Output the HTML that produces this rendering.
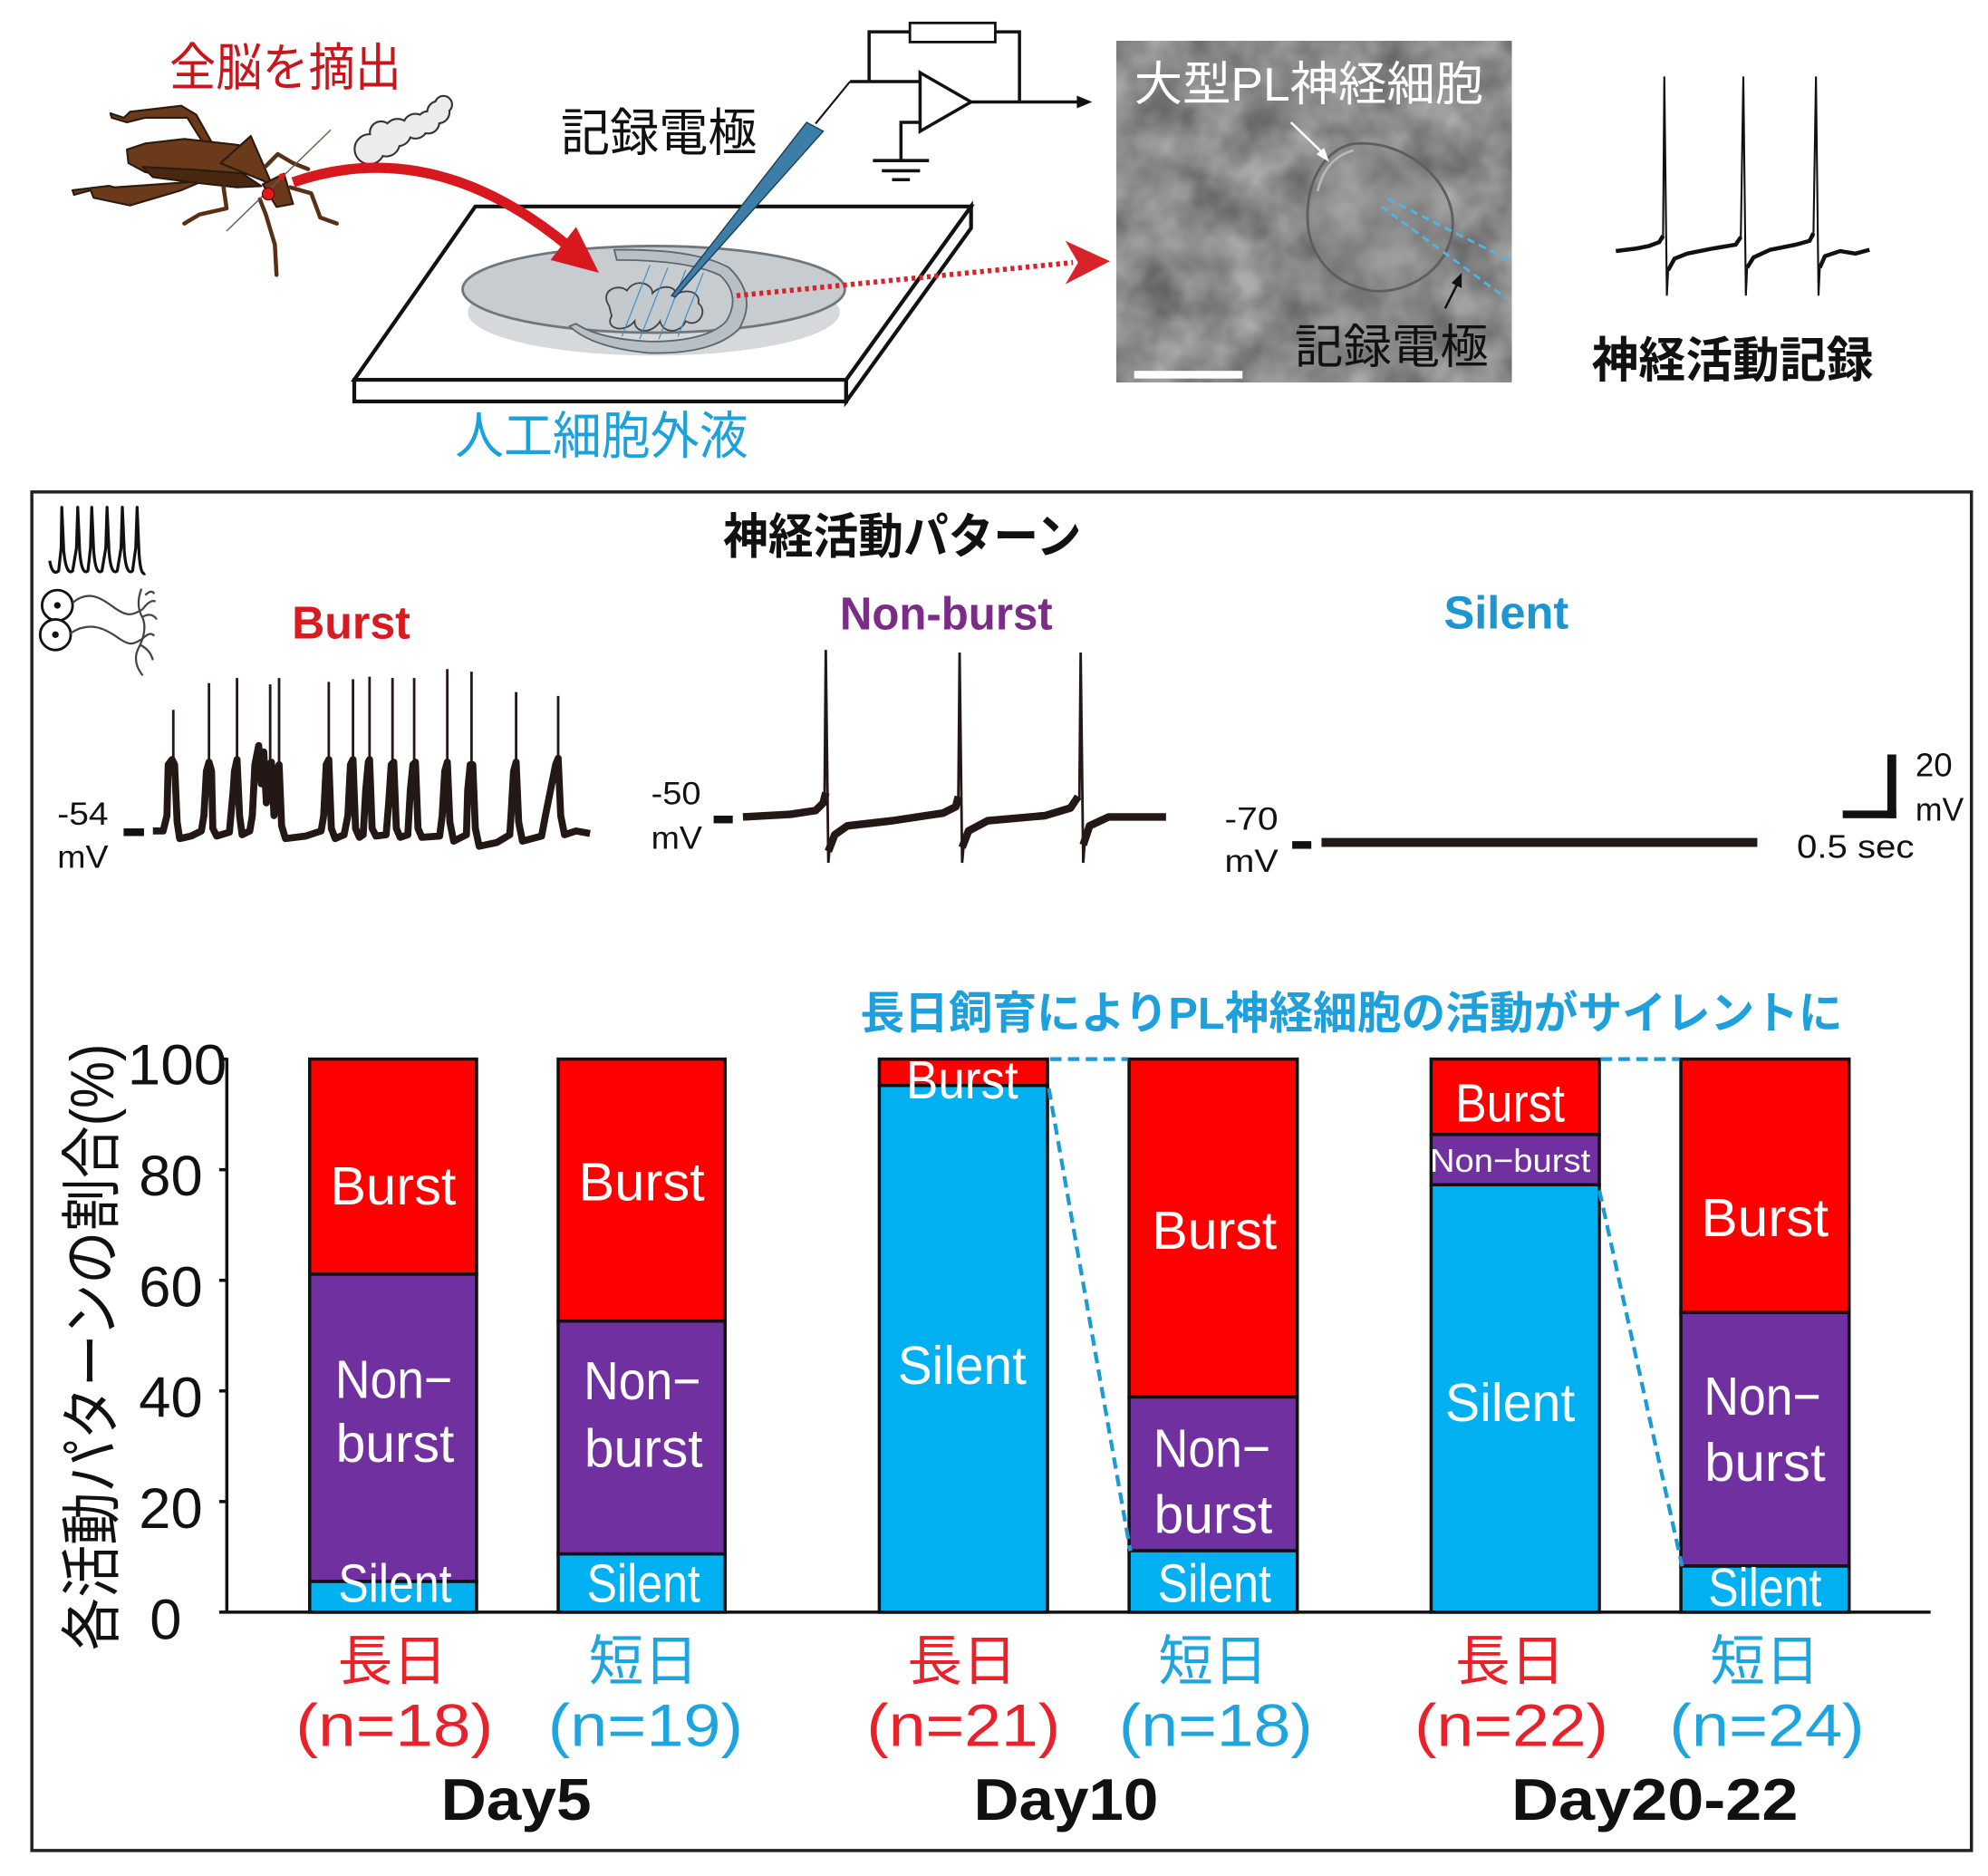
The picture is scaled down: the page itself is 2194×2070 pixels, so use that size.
<!DOCTYPE html>
<html><head><meta charset="utf-8">
<style>
html,body{margin:0;padding:0;background:#fff}
svg{display:block}
.j{font-family:"Liberation Sans","Noto Sans CJK JP",sans-serif}
.l{font-family:"Liberation Sans",sans-serif}
</style></head>
<body>
<svg width="2194" height="2070" viewBox="0 0 1560 1472" preserveAspectRatio="none" xmlns="http://www.w3.org/2000/svg">
<defs>
<filter id="tex" x="876" y="32" width="310" height="268" filterUnits="userSpaceOnUse" color-interpolation-filters="sRGB">
<feTurbulence type="fractalNoise" baseFrequency="0.028" numOctaves="3" seed="7"/>
<feColorMatrix type="matrix" values="0.42 0 0 0 0.33  0.42 0 0 0 0.33  0.42 0 0 0 0.33  0 0 0 0 1"/>
</filter>
</defs>
<rect x="0" y="0" width="1560" height="1472" fill="#fff"/>

<!-- ===== TOP SECTION ===== -->
<text class="j" x="133" y="67" font-size="40" fill="#c8161d" textLength="182" lengthAdjust="spacingAndGlyphs">全脳を摘出</text>
<text class="j" x="440" y="118" font-size="40" fill="#111" textLength="154" lengthAdjust="spacingAndGlyphs">記録電極</text>
<text class="j" x="357" y="356" font-size="40" fill="#1ba1db" textLength="230" lengthAdjust="spacingAndGlyphs">人工細胞外液</text>

<!-- cloud -->
<g stroke="#333" stroke-width="3" fill="#333">
<circle cx="290" cy="117" r="11"/><circle cx="303" cy="112" r="10"/><circle cx="299" cy="104" r="8"/>
<circle cx="312" cy="104" r="10"/><circle cx="326" cy="99" r="9"/><circle cx="336" cy="96" r="8"/>
<circle cx="344" cy="88" r="8"/><circle cx="348" cy="82" r="6"/>
</g>
<g fill="#ececec">
<circle cx="290" cy="117" r="11"/><circle cx="303" cy="112" r="10"/><circle cx="299" cy="104" r="8"/>
<circle cx="312" cy="104" r="10"/><circle cx="326" cy="99" r="9"/><circle cx="336" cy="96" r="8"/>
<circle cx="344" cy="88" r="8"/><circle cx="348" cy="82" r="6"/>
</g>

<!-- cricket -->
<g stroke="#2a1a10" stroke-width="1.5" stroke-linejoin="round">
<polygon fill="#6b3a1a" points="86.6,88.9 97.2,92.4 102,87.7 142.2,83 154,90 166,111.4 161.2,115 147,92.4 113.8,92.4 99.6,96 87.7,92.4"/>
<polygon fill="#6b3a1a" points="158.8,142.2 90.1,147 85.4,145.8 56.9,149.3 58.1,152.9 71.1,149.3 73.5,155.2 102,161.2 142.2,149.3"/>
<polygon fill="#6b3a1a" points="99.6,117.3 113.8,112.6 144.6,109 187.3,113.8 199,132.7 184.9,142.2 149.4,142.2 113.8,135 100.8,128"/>
<polygon fill="#4a2810" points="112,131 150,133 190,136 205,146 186,147 150,143 120,139"/>
<polygon fill="#6b3a1a" points="173,128 196.8,106.7 213.3,144.6"/>
<polygon fill="#6b3a1a" points="206.2,144.6 222.8,136.3 230,160 217,162.4"/>
</g>
<g stroke="#5a3015" stroke-width="3.2" fill="none" stroke-linecap="round" stroke-linejoin="round">
<polyline points="175.4,147 177.8,163.5 156.5,168.3 144.6,175.4"/>
<polyline points="227.6,147 244.2,151.7 251.3,170.7 264.3,175.4"/>
<polyline points="203.9,156.4 208.6,168.3 215.7,192 217,215.7"/>
<polyline points="208.6,130.4 218,120.9 230,128 241.8,132.7"/>
</g>
<line x1="177.8" y1="181.3" x2="259.6" y2="101.9" stroke="#6b5a4a" stroke-width="1"/>
<circle cx="210.5" cy="152.2" r="4.7" fill="#e01a1a" stroke="#600" stroke-width="0.8"/>
<circle cx="221" cy="138.7" r="2.6" fill="#e01a1a"/>

<!-- plate -->
<g stroke="#111" stroke-width="3" fill="#fff" stroke-linejoin="miter">
<polygon points="373,162 762,162 664,298 278,298"/>
<rect x="278" y="298" width="386" height="17"/>
<polygon points="664,298 762,162 762,179 664,315"/>
</g>

<!-- dish -->
<ellipse cx="513" cy="245" rx="146" ry="34" fill="#d6d9db"/>
<ellipse cx="513" cy="227" rx="150" ry="34" fill="#c7ccd0" stroke="#6f777d" stroke-width="2"/>
<path d="M482,196 Q545,195 572,210 Q595,232 580,258 Q560,278 510,277 Q465,273 447,256 L452,254 Q470,266 510,268 Q555,268 570,252 Q582,232 565,216 Q540,204 484,204 Z" fill="#b9c0c5" stroke="#5f676d" stroke-width="1.3"/>
<path d="M478,240 C470,228 485,222 492,228 C498,218 512,222 512,230 C520,222 532,225 530,232 C536,226 550,228 548,238 C556,244 548,258 538,252 C534,262 520,262 518,252 C512,262 498,262 498,252 C490,262 474,258 480,248 Z" fill="#c3c9cd" stroke="#444" stroke-width="1.3"/>
<g stroke="#3a8cc8" stroke-width="0.8">
<line x1="488" y1="264" x2="510" y2="208"/><line x1="502" y1="266" x2="524" y2="210"/>
<line x1="517" y1="266" x2="538" y2="212"/><line x1="532" y1="264" x2="552" y2="214"/>
</g>

<!-- electrode -->
<polygon points="633,96 646,103 530,233 527,232" fill="#3d7ea8" stroke="#1d3f55" stroke-width="1"/>
<line x1="640" y1="97" x2="667" y2="64" stroke="#111" stroke-width="1.5"/>

<!-- circuit -->
<g stroke="#111" stroke-width="2.5" fill="none">
<polyline points="667,64 722,64"/>
<polyline points="682,64 682,25 714,25"/>
<polyline points="781,25 800,25 800,80"/>
<polyline points="722,96 707,96 707,126"/>
<line x1="685" y1="126" x2="729" y2="126"/>
<line x1="692" y1="134" x2="722" y2="134"/>
<line x1="700" y1="141" x2="714" y2="141"/>
<line x1="762" y1="80" x2="848" y2="80"/>
</g>
<rect x="714" y="18" width="67" height="15" fill="#fff" stroke="#111" stroke-width="2"/>
<polygon points="722,57 722,103 762,80" fill="#fff" stroke="#111" stroke-width="2.5"/>
<polygon points="845,75 857,80 845,85" fill="#111"/>

<!-- red curved arrow -->
<path d="M230,143 Q340,105 447,194" fill="none" stroke="#d7191f" stroke-width="8"/>
<polygon points="470,214 432,204 452,178" fill="#d7191f"/>

<!-- dotted red line -->
<line x1="578" y1="232" x2="842" y2="206" stroke="#d9232b" stroke-width="4" stroke-dasharray="3,3"/>
<polygon points="836,189 871,205 836,223 846,206" fill="#d9232b"/>

<!-- photo -->
<rect x="876" y="32" width="310" height="268" filter="url(#tex)"/>
<path d="M1061,113 C1040,118 1026,140 1026,170 C1026,200 1045,222 1075,228 C1105,232 1140,210 1140,175 C1140,140 1100,108 1061,113 Z" fill="#8a8a8a" fill-opacity="0.35" stroke="#5e5e5e" stroke-width="2"/>
<path d="M1034,150 Q1040,124 1062,118" stroke="#b8b8b8" stroke-width="2" fill="none"/>
<line x1="1089" y1="156" x2="1184" y2="204" stroke="#4fb6e3" stroke-width="2" stroke-dasharray="6,4"/>
<line x1="1084" y1="162" x2="1182" y2="234" stroke="#4fb6e3" stroke-width="2" stroke-dasharray="6,4"/>
<line x1="1013" y1="96" x2="1040" y2="122" stroke="#fff" stroke-width="1.8"/>
<polygon points="1043,127 1033,121 1039,116" fill="#fff"/>
<line x1="1134" y1="242" x2="1144" y2="222" stroke="#111" stroke-width="1.8"/>
<polygon points="1147,214 1147,226 1139,222" fill="#111"/>
<rect x="890" y="291" width="85" height="6" fill="#fff"/>
<text class="j" x="890" y="79" font-size="37" fill="#fff" textLength="274" lengthAdjust="spacingAndGlyphs">大型PL神経細胞</text>
<text class="j" x="1016" y="285" font-size="37" fill="#111" textLength="152" lengthAdjust="spacingAndGlyphs">記録電極</text>

<!-- top-right trace -->
<polyline points="1268,197 1284,195 1294,193 1302,190 1305,185" fill="none" stroke="#111" stroke-width="3.2"/>
<polyline points="1309,212 1314,203 1324,199 1344,195 1362,192 1366,186" fill="none" stroke="#111" stroke-width="3.2"/>
<polyline points="1371,210 1376,202 1389,196 1409,192 1420,189 1423,183" fill="none" stroke="#111" stroke-width="3.2"/>
<polyline points="1428,210 1432,201 1444,197 1456,199 1467,196" fill="none" stroke="#111" stroke-width="3.2"/>
<g stroke="#111" stroke-width="1.5" fill="none">
<polyline points="1305,188 1306,60 1308,232 1309,212"/>
<polyline points="1366,188 1368,60 1370,232 1371,210"/>
<polyline points="1423,186 1425,60 1427,232 1428,210"/>
</g>
<text class="j" x="1249" y="296" font-size="38" font-weight="bold" fill="#111" textLength="221" lengthAdjust="spacingAndGlyphs">神経活動記録</text>

<!-- ===== BOX ===== -->
<rect x="25" y="386" width="1522" height="1066" fill="none" stroke="#222" stroke-width="2.5"/>

<!-- neuron icon -->
<path d="M39,440 Q41,452 46,448 L48,430 L48.5,398 L50,432 Q52,452 57,448 L60,430 L61,398 L62.5,432 Q64,452 69,448 L71,430 L72,398 L73.5,432 Q75,452 80,448 L83,430 L84,398 L85.5,432 Q87,452 92,448 L95,430 L96,398 L97.5,432 Q99,452 104,448 L106.5,430 L107.6,398 L109,432 Q110,452 114,450" fill="none" stroke="#111" stroke-width="2.3" stroke-linejoin="round"/>
<circle cx="45" cy="475" r="12" fill="#fff" stroke="#111" stroke-width="2"/>
<circle cx="43.5" cy="498" r="12" fill="#fff" stroke="#111" stroke-width="2"/>
<circle cx="45" cy="475" r="2.6" fill="#111"/><circle cx="43.5" cy="498" r="2.6" fill="#111"/>
<g stroke="#444" stroke-width="1.6" fill="none">
<path d="M57,473 C70,462 80,470 90,477 S104,483 112,478"/>
<path d="M55,497 C70,487 82,493 92,500 S104,506 112,501"/>
<path d="M111,462 Q106,475 112,485 Q116,495 108,510 Q104,520 112,530"/>
<path d="M112,478 Q118,470 122,472"/><path d="M112,484 Q119,480 123,486"/>
<path d="M112,501 Q118,495 121,499"/><path d="M110,506 Q118,510 120,518"/>
<path d="M114,467 Q119,462 121,466"/>
</g>

<text class="j" x="708" y="434" font-size="38" font-weight="bold" fill="#111" text-anchor="middle" textLength="281" lengthAdjust="spacingAndGlyphs">神経活動パターン</text>
<text class="l" x="229" y="501" font-size="36" font-weight="bold" fill="#d81a21" textLength="93" lengthAdjust="spacingAndGlyphs">Burst</text>
<text class="l" x="659" y="494" font-size="36" font-weight="bold" fill="#7b2c87" textLength="167" lengthAdjust="spacingAndGlyphs">Non-burst</text>
<text class="l" x="1133" y="493" font-size="36" font-weight="bold" fill="#1c95d2" textLength="98" lengthAdjust="spacingAndGlyphs">Silent</text>

<!-- burst trace -->
<path d="M120,652 L128,652 L131,640 L132,600 L135,596 L137,600 L139,645 L141,658 L150,656 L158,652 L160,640 L162,605 L164,598 L166,605 L167,650 L170,656 L180,653 L183,620 L184,605 L186,596 L188,640 L190,655 L196,652 L198,640 L200,600 L203,585 L205,615 L207,590 L209,630 L211,600 L213,598 L215,640 L217,605 L219,600 L221,648 L224,658 L240,656 L252,652 L254,640 L256,600 L258,596 L260,650 L263,658 L270,655 L273,640 L275,600 L277,596 L279,650 L282,657 L285,655 L287,620 L289,598 L290,596 L292,650 L295,656 L303,655 L305,630 L307,600 L309,598 L311,650 L314,657 L320,655 L322,620 L324,600 L326,598 L328,650 L331,657 L345,656 L347,640 L349,605 L351,598 L353,645 L356,660 L366,655 L367,620 L369,600 L371,600 L373,650 L376,664 L390,661 L400,655 L401,640 L403,605 L405,598 L407,645 L410,660 L425,656 L428,640 L432,620 L436,600 L438,595 L440,640 L443,655 L452,652 L463,654" fill="none" stroke="#231815" stroke-width="5.5" stroke-linejoin="round"/>
<g stroke="#231815" stroke-width="2">
<line x1="136" y1="600" x2="136" y2="557"/><line x1="164" y1="600" x2="164" y2="536"/>
<line x1="186" y1="600" x2="186" y2="532"/><line x1="212" y1="600" x2="212" y2="537"/>
<line x1="219" y1="600" x2="219" y2="532"/><line x1="258" y1="600" x2="258" y2="535"/>
<line x1="277" y1="600" x2="277" y2="533"/><line x1="290" y1="600" x2="290" y2="531"/>
<line x1="308" y1="600" x2="308" y2="532"/><line x1="325" y1="600" x2="325" y2="532"/>
<line x1="351" y1="600" x2="351" y2="525"/><line x1="370" y1="600" x2="370" y2="527"/>
<line x1="405" y1="600" x2="405" y2="543"/><line x1="438" y1="600" x2="438" y2="546"/>
</g>
<rect x="97" y="650" width="16" height="6" fill="#111"/>
<text class="l" x="45" y="647" font-size="25" fill="#111" textLength="40" lengthAdjust="spacingAndGlyphs">-54</text>
<text class="l" x="45" y="681" font-size="25" fill="#111" textLength="40" lengthAdjust="spacingAndGlyphs">mV</text>

<!-- non-burst trace -->
<path d="M583,641 L620,639 L640,636 L646,630 L648,622 M650,668 L655,655 L665,648 L700,644 L740,638 L750,633 L752,625 M755,665 L760,652 L775,644 L820,640 L840,634 L846,625 M850,663 L855,648 L870,641 L915,641" fill="none" stroke="#231815" stroke-width="6" stroke-linejoin="round"/>
<g stroke="#231815" stroke-width="2" fill="none">
<polyline points="647,628 648,510 650,677 651,665"/>
<polyline points="752,628 753,512 755,677 756,665"/>
<polyline points="847,628 848,512 850,677 851,663"/>
</g>
<rect x="560" y="640" width="15" height="6" fill="#111"/>
<text class="l" x="511" y="631" font-size="25" fill="#111" textLength="39" lengthAdjust="spacingAndGlyphs">-50</text>
<text class="l" x="511" y="666" font-size="25" fill="#111" textLength="40" lengthAdjust="spacingAndGlyphs">mV</text>

<!-- silent trace -->
<line x1="1037" y1="661" x2="1379" y2="661" stroke="#231815" stroke-width="7"/>
<rect x="1014" y="660" width="15" height="6" fill="#111"/>
<text class="l" x="961" y="651" font-size="25" fill="#111" textLength="42" lengthAdjust="spacingAndGlyphs">-70</text>
<text class="l" x="961" y="684" font-size="25" fill="#111" textLength="42" lengthAdjust="spacingAndGlyphs">mV</text>

<!-- scale bar -->
<rect x="1481" y="592" width="7" height="50" fill="#111"/>
<rect x="1446" y="636" width="42" height="6" fill="#111"/>
<text class="l" x="1503" y="609" font-size="26" fill="#111" textLength="29" lengthAdjust="spacingAndGlyphs">20</text>
<text class="l" x="1503" y="644" font-size="26" fill="#111" textLength="38" lengthAdjust="spacingAndGlyphs">mV</text>
<text class="l" x="1410" y="673" font-size="26" fill="#111" textLength="92" lengthAdjust="spacingAndGlyphs">0.5 sec</text>

<!-- headline -->
<text class="j" x="675" y="807" font-size="35" font-weight="bold" fill="#1ea0dc" textLength="771" lengthAdjust="spacingAndGlyphs">長日飼育によりPL神経細胞の活動がサイレントに</text>

<!-- ===== BAR CHART ===== -->
<g stroke="#111" stroke-width="2.5">
<rect x="243" y="831" width="131" height="168.8" fill="#ff0000"/>
<rect x="243" y="999.8" width="131" height="241.1" fill="#7030a0"/>
<rect x="243" y="1240.9" width="131" height="24.1" fill="#00b0f0"/>
<rect x="438" y="831" width="131" height="205.6" fill="#ff0000"/>
<rect x="438" y="1036.6" width="131" height="182.7" fill="#7030a0"/>
<rect x="438" y="1219.3" width="131" height="45.7" fill="#00b0f0"/>
<rect x="690" y="831" width="132" height="20.7" fill="#ff0000"/>
<rect x="690" y="851.7" width="132" height="413.3" fill="#00b0f0"/>
<rect x="886" y="831" width="132" height="265.2" fill="#ff0000"/>
<rect x="886" y="1096.2" width="132" height="120.6" fill="#7030a0"/>
<rect x="886" y="1216.8" width="132" height="48.2" fill="#00b0f0"/>
<rect x="1123" y="831" width="132" height="59.2" fill="#ff0000"/>
<rect x="1123" y="890.2" width="132" height="39.4" fill="#7030a0"/>
<rect x="1123" y="929.6" width="132" height="335.4" fill="#00b0f0"/>
<rect x="1319" y="831" width="132" height="198.9" fill="#ff0000"/>
<rect x="1319" y="1029.9" width="132" height="198.9" fill="#7030a0"/>
<rect x="1319" y="1228.8" width="132" height="36.2" fill="#00b0f0"/>
</g>

<!-- bar labels -->
<g class="l" fill="#fff" font-size="42" text-anchor="middle">
<text x="308.5" y="945" textLength="99" lengthAdjust="spacingAndGlyphs">Burst</text>
<text x="309" y="1097" textLength="92" lengthAdjust="spacingAndGlyphs">Non−</text>
<text x="310" y="1147" textLength="93" lengthAdjust="spacingAndGlyphs">burst</text>
<text x="310" y="1257" textLength="89" lengthAdjust="spacingAndGlyphs">Silent</text>

<text x="503.5" y="942" textLength="99" lengthAdjust="spacingAndGlyphs">Burst</text>
<text x="504" y="1098" textLength="92" lengthAdjust="spacingAndGlyphs">Non−</text>
<text x="505" y="1151" textLength="93" lengthAdjust="spacingAndGlyphs">burst</text>
<text x="505" y="1257" textLength="89" lengthAdjust="spacingAndGlyphs">Silent</text>

<text x="755" y="862" textLength="88" lengthAdjust="spacingAndGlyphs">Burst</text>
<text x="755" y="1086" textLength="101" lengthAdjust="spacingAndGlyphs">Silent</text>

<text x="953" y="980" textLength="98" lengthAdjust="spacingAndGlyphs">Burst</text>
<text x="951" y="1151" textLength="92" lengthAdjust="spacingAndGlyphs">Non−</text>
<text x="952" y="1203" textLength="93" lengthAdjust="spacingAndGlyphs">burst</text>
<text x="953" y="1257" textLength="89" lengthAdjust="spacingAndGlyphs">Silent</text>

<text x="1185" y="880" textLength="86" lengthAdjust="spacingAndGlyphs">Burst</text>
<text x="1185" y="919.5" font-size="26" textLength="126" lengthAdjust="spacingAndGlyphs">Non−burst</text>
<text x="1185" y="1115" textLength="102" lengthAdjust="spacingAndGlyphs">Silent</text>

<text x="1385" y="970" textLength="100" lengthAdjust="spacingAndGlyphs">Burst</text>
<text x="1383" y="1110" textLength="92" lengthAdjust="spacingAndGlyphs">Non−</text>
<text x="1385" y="1162" textLength="95" lengthAdjust="spacingAndGlyphs">burst</text>
<text x="1385" y="1260" textLength="89" lengthAdjust="spacingAndGlyphs">Silent</text>
</g>

<!-- dashed connectors -->
<g stroke="#1a9ad6" stroke-width="3" stroke-dasharray="9,5" fill="none">
<line x1="824" y1="831" x2="885" y2="831"/>
<line x1="823" y1="854" x2="887" y2="1217"/>
<line x1="1256" y1="831" x2="1318" y2="831"/>
<line x1="1255" y1="934" x2="1320" y2="1229"/>
</g>

<!-- axes -->
<g stroke="#111" stroke-width="2.5">
<line x1="178" y1="830" x2="178" y2="1266"/>
<line x1="172" y1="1265" x2="1515" y2="1265"/>
<line x1="172" y1="831" x2="178" y2="831"/>
<line x1="172" y1="917.8" x2="178" y2="917.8"/>
<line x1="172" y1="1004.6" x2="178" y2="1004.6"/>
<line x1="172" y1="1091.4" x2="178" y2="1091.4"/>
<line x1="172" y1="1178.2" x2="178" y2="1178.2"/>
</g>
<g class="l" font-size="45" fill="#111" text-anchor="middle">
<text x="139" y="851" textLength="78" lengthAdjust="spacingAndGlyphs">100</text>
<text x="134" y="938">80</text>
<text x="134" y="1025">60</text>
<text x="134" y="1112">40</text>
<text x="134" y="1199">20</text>
<text x="130" y="1286">0</text>
</g>
<text class="j" transform="translate(89,1057) rotate(-90)" font-size="48" fill="#111" text-anchor="middle" textLength="476" lengthAdjust="spacingAndGlyphs">各活動パターンの割合(%)</text>

<!-- x labels -->
<g class="j" font-size="43" text-anchor="middle">
<text x="308" y="1318" fill="#e8212b" textLength="86" lengthAdjust="spacingAndGlyphs">長日</text>
<text x="505" y="1318" fill="#1ea5e0" textLength="86" lengthAdjust="spacingAndGlyphs">短日</text>
<text x="755" y="1318" fill="#e8212b" textLength="86" lengthAdjust="spacingAndGlyphs">長日</text>
<text x="952" y="1318" fill="#1ea5e0" textLength="86" lengthAdjust="spacingAndGlyphs">短日</text>
<text x="1185" y="1318" fill="#e8212b" textLength="86" lengthAdjust="spacingAndGlyphs">長日</text>
<text x="1385" y="1318" fill="#1ea5e0" textLength="86" lengthAdjust="spacingAndGlyphs">短日</text>
</g>
<g class="l" font-size="47" text-anchor="middle">
<text x="309.5" y="1370" fill="#e8212b" textLength="155" lengthAdjust="spacingAndGlyphs">(n=18)</text>
<text x="506.5" y="1370" fill="#1ea5e0" textLength="153" lengthAdjust="spacingAndGlyphs">(n=19)</text>
<text x="756" y="1370" fill="#e8212b" textLength="152" lengthAdjust="spacingAndGlyphs">(n=21)</text>
<text x="954" y="1370" fill="#1ea5e0" textLength="152" lengthAdjust="spacingAndGlyphs">(n=18)</text>
<text x="1186" y="1370" fill="#e8212b" textLength="152" lengthAdjust="spacingAndGlyphs">(n=22)</text>
<text x="1386.5" y="1370" fill="#1ea5e0" textLength="153" lengthAdjust="spacingAndGlyphs">(n=24)</text>
</g>
<g class="l" font-size="46" font-weight="bold" fill="#111" text-anchor="middle">
<text x="405" y="1428" textLength="118" lengthAdjust="spacingAndGlyphs">Day5</text>
<text x="836.5" y="1428" textLength="145" lengthAdjust="spacingAndGlyphs">Day10</text>
<text x="1298.5" y="1428" textLength="225" lengthAdjust="spacingAndGlyphs">Day20-22</text>
</g>
</svg>
</body></html>
